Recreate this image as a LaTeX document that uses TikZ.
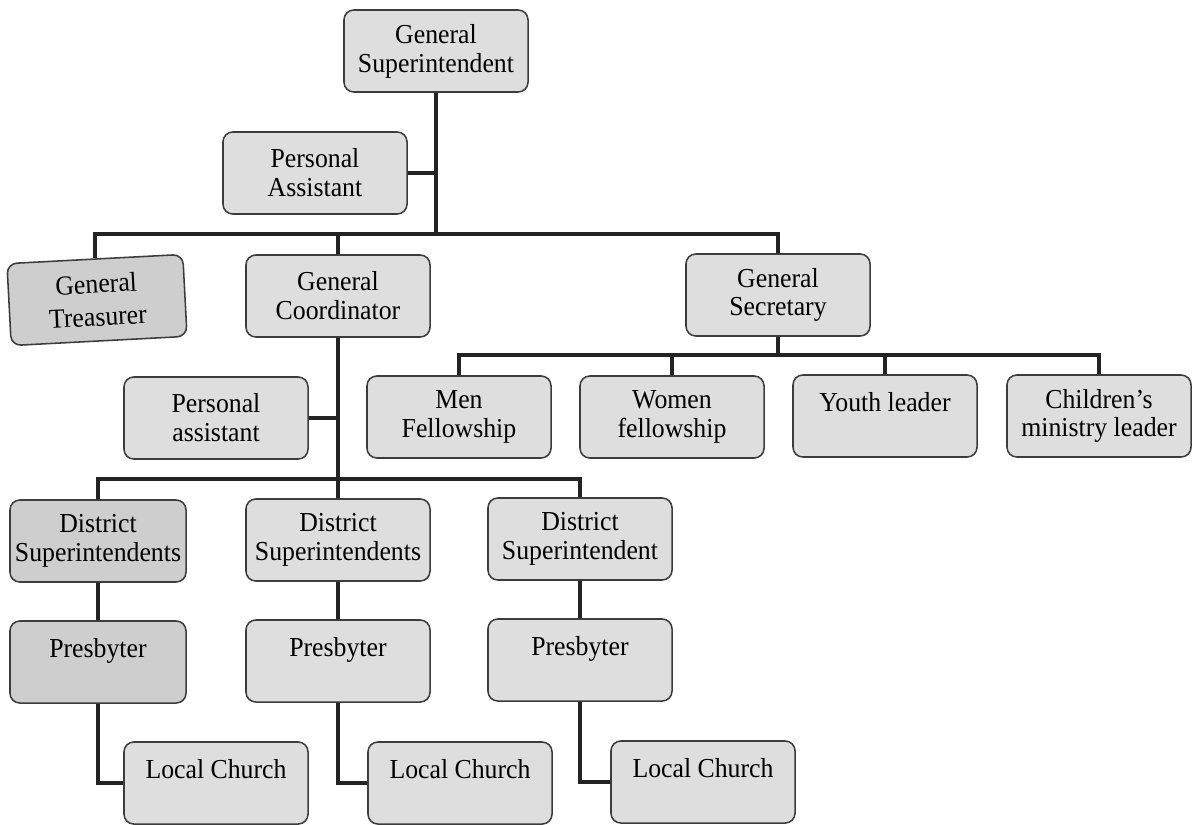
\documentclass[tikz,border=0pt]{standalone}
\usepackage{fontspec}
\setmainfont[FakeStretch=0.94]{Liberation Serif}
\usetikzlibrary{positioning,calc}
\definecolor{ocBox}{RGB}{222,222,222}
\definecolor{ocDark}{RGB}{206,206,206}
\definecolor{ocEdge}{RGB}{60,60,60}
\definecolor{ocLine}{RGB}{35,35,35}

\begin{document}
\begin{tikzpicture}[x=0.025cm,y=-0.025cm,font=\fontsize{19.5}{20.5}\selectfont,
  post/.style={draw=ocEdge,line width=1.1pt,rounded corners=7pt,fill=ocBox,minimum width=4.6cm,minimum height=2.05cm,align=center,inner sep=2pt},
  narrow/.style={post,minimum width=4.4cm,fill=ocDark},
  link/.style={draw=ocLine,line width=2.8pt}]
    \useasboundingbox (0,0) rectangle (1196,824);
    % Head office
    \node[post] at (436,51) (gsup) {General\\Superintendent};
    \node[post] at (315,173) (pasup) {Personal\\Assistant};
    \node[narrow,rotate=3,font=\fontsize{19.5}{23.5}\selectfont] at (97,300) (gtre) {General\\Treasurer};
    \node[post] at (338,296) (gcoo) {General\\Coordinator};
    \node[post] at (778,295) (gsec) {General\\Secretary};
    % Under the secretary
    \node[post] at (459,417) (men) {Men\\Fellowship};
    \node[post] at (672,417) (women) {Women\\fellowship};
    \node[post] at (885,416) (youth) {Youth leader\\~};
    \node[post] at (1099,416) (child) {Children’s\\ministry leader};
    % Under the coordinator
    \node[post] at (216,418) (pacoo) {Personal\\assistant};
    \node[narrow] at (98,541) (dis1) {District\\Superintendents};
    \node[post] at (338,540) (dis2) {District\\Superintendents};
    \node[post] at (580,539) (dis3) {District\\Superintendent};
    \node[narrow] at (98,662) (pres1) {Presbyter\\~};
    \node[post] at (338,661) (pres2) {Presbyter\\~};
    \node[post] at (580,660) (pres3) {Presbyter\\~};
    \node[post] at (216,783) (loc1) {Local Church\\~};
    \node[post] at (460,783) (loc2) {Local Church\\~};
    \node[post] at (703,782) (loc3) {Local Church\\~};
    % Bars
    \coordinate (bar1) at (0,234);
    \coordinate (bar2) at (0,355);
    \coordinate (bar3) at (0,479);
    % Links
    \draw[link] (gsup.south) -- (gsup.south |- bar1);
    \draw[link] (pasup.east) -- (pasup.east -| gsup.south);
    \draw[link] (gtre.north) |- (gsec.north |- bar1) -- (gsec.north);
    \draw[link] (gcoo.north) -- (gcoo.north |- bar1);
    \draw[link] (gsec.south) -- (gsec.south |- bar2);
    \draw[link] (men.north) |- (child.north |- bar2) -- (child.north);
    \draw[link] (women.north) -- (women.north |- bar2);
    \draw[link] (youth.north) -- (youth.north |- bar2);
    \draw[link] (gcoo.south) -- (dis2.north);
    \draw[link] (pacoo.east) -- (pacoo.east -| gcoo.south);
    \draw[link] (dis1.north) |- (dis3.north |- bar3) -- (dis3.north);
    \foreach \i in {1,2,3} {
        \draw[link] (dis\i.south) -- (pres\i.north);
        \draw[link] (pres\i.south) |- (loc\i.west);
    }
\end{tikzpicture}
\end{document}
